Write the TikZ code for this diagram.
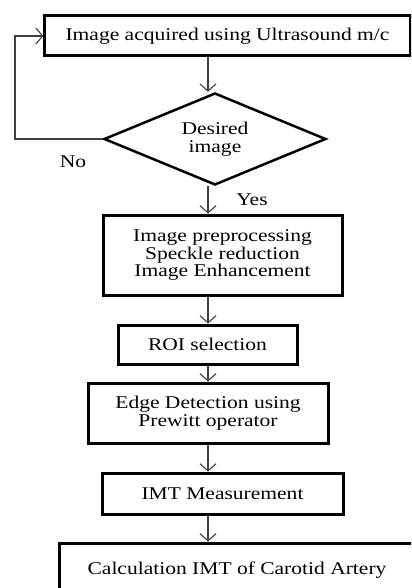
\documentclass[tikz,border=0pt]{standalone}
\usepackage{fontspec}
\setmainfont{Liberation Serif}[FakeStretch=1.2]
\usetikzlibrary{shapes.geometric,arrows.meta}
\begin{document}
\begin{tikzpicture}[x=1bp,y=-1bp,
  every node/.style={font=\fontsize{18}{17.5}\selectfont, inner sep=0pt, align=center},
  boxnode/.style={draw, line width=3bp, rectangle},
  decision/.style={draw, line width=2.5bp, diamond, aspect=3},
  arr/.style={line width=1.1bp, draw=black!75, -{Straight Barb[length=7bp,width=16bp,line width=1.1bp]}},
  lbl/.style={}]
\useasboundingbox (0,0) rectangle (411,588);
\clip (0,0) rectangle (411,588);
\fill[white] (0,0) rectangle (411,588);
\coordinate (ax) at (208,0);
\coordinate (fb) at (15,0);
\node[boxnode, minimum width=365bp, minimum height=40bp] (top) at (227.5,36) {Image acquired using Ultrasound m/c};
\node[decision, minimum width=222bp, minimum height=92bp] (dia) at (215,139) {Desired\\image};
\node[boxnode, minimum width=239bp, minimum height=80bp] (pre) at (222.5,255) {Image preprocessing\\Speckle reduction\\Image Enhancement};
\node[boxnode, minimum width=179bp, minimum height=39bp] (roi) at (207.5,344.5) {ROI selection};
\node[boxnode, minimum width=240bp, minimum height=60bp] (edge) at (208,413) {Edge Detection using\\Prewitt operator};
\node[boxnode, minimum width=241bp, minimum height=41bp] (imt) at (222.5,493.5) {IMT Measurement};
\node[boxnode, minimum width=354bp, minimum height=54bp] (calc) at (237,570) {Calculation IMT of Carotid Artery};
\node[lbl] (no) at (73,162) {No};
\node[lbl] (yes) at (252,200) {Yes};
\draw[arr] (top.south -| ax) -- (dia.north -| ax);
\draw[arr] (dia.south -| ax) -- (pre.north -| ax);
\draw[arr] (pre.south -| ax) -- (roi.north -| ax);
\draw[arr] (roi.south -| ax) -- (edge.north -| ax);
\draw[arr] (edge.south -| ax) -- (imt.north -| ax);
\draw[arr] (imt.south -| ax) -- (calc.north -| ax);
\draw[arr] (dia.west) -- (dia.west -| fb) |- (top.west);
\end{tikzpicture}
\end{document}
